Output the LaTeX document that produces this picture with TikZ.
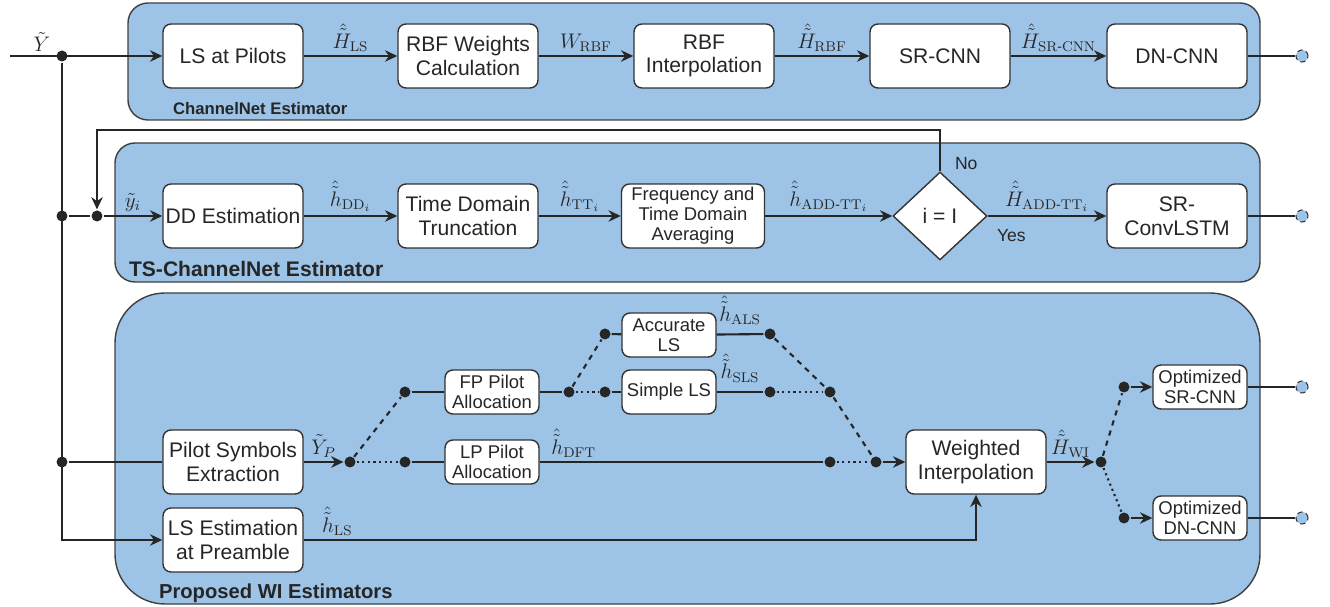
\documentclass[tikz,border=0pt]{standalone}
\usepackage{amsmath}
\usepackage[no-math]{fontspec}
\setmainfont{Liberation Sans}
\usetikzlibrary{shapes.geometric,arrows.meta}
\definecolor{panelblue}{RGB}{157,195,230}
\tikzset{
  panel/.style={draw=black!75, fill=panelblue, line width=0.8pt},
  ptitle/.style={anchor=base west, inner sep=0pt, font=\bfseries\fontsize{#1}{13}\selectfont},
  blk/.style={draw=black!80, fill=white, rounded corners=4.5pt, line width=0.8pt, align=center,
    minimum width=2.8cm, minimum height=1.28cm, inner sep=1pt, font=\fontsize{12}{13.5}\selectfont},
  sblk/.style={blk, minimum width=1.88cm, minimum height=0.88cm, font=\fontsize{10.5}{11.5}\selectfont},
  jdot/.style={circle, fill=black!85, inner sep=0pt, minimum size=0.22cm},
  outpt/.style={circle, draw=black!80, fill=panelblue, densely dashed, line width=0.6pt, inner sep=0pt, minimum size=0.24cm},
  lbl/.style={font=\fontsize{12}{14}\selectfont, inner sep=2pt},
  yn/.style={font=\fontsize{10}{12}\selectfont, inner sep=0pt},
  arr/.style={-{Stealth[length=7pt,width=6.5pt]}}
}
\newcommand{\hy}{\text{-}}
\begin{document}
\begin{tikzpicture}[x=0.02cm,y=-0.02cm,line width=1.2pt,color=black!85]
\useasboundingbox (0,0) rectangle (1330,607);
\draw[panel,rounded corners=0.4cm] (128,3) rectangle (1260,120);
\draw[panel,rounded corners=0.4cm] (115,143) rectangle (1260,282);
\draw[panel,rounded corners=1cm] (115,293) rectangle (1260,604);
\node[ptitle=9.5] at (172,115) {ChannelNet Estimator};
\node[ptitle=12] at (128,277) {TS-ChannelNet Estimator};
\node[ptitle=11.5] at (158,599) {Proposed WI Estimators};

\node[blk] (lsp) at (233,56) {LS at Pilots};
\node[blk] (rbfw) at (468,56) {RBF Weights\\Calculation};
\node[blk] (rbfi) at (704,56) {RBF\\Interpolation};
\node[blk] (srcnn) at (940,56) {SR-CNN};
\node[blk] (dncnn) at (1177,56) {DN-CNN};
\node[outpt] (o1) at (1302,56) {};

\node[blk] (dd) at (233,216) {DD Estimation};
\node[blk] (tdt) at (468,216) {Time Domain\\Truncation};
\node[blk,minimum width=2.86cm,font=\fontsize{10.5}{11.5}\selectfont] (fta) at (693,216) {Frequency and\\Time Domain\\Averaging};
\node[draw=black!80, fill=white, diamond, line width=0.8pt, minimum width=1.88cm, minimum height=1.76cm,
  inner sep=0pt, font=\fontsize{12}{14}\selectfont] (dec) at (940,216) {i = I};
\node[blk] (srconv) at (1177,216) {SR-\\ConvLSTM};
\node[outpt] (o2) at (1302,216) {};

\node[blk] (pse) at (233,462) {Pilot Symbols\\Extraction};
\node[blk] (lse) at (233,540) {LS Estimation\\at Preamble};
\node[sblk] (fp) at (492,392) {FP Pilot\\Allocation};
\node[sblk] (lp) at (492,462) {LP Pilot\\Allocation};
\node[sblk] (als) at (669,335) {Accurate\\LS};
\node[sblk] (sls) at (669,392) {Simple LS};
\node[blk] (wi) at (976,462) {Weighted\\Interpolation};
\node[sblk] (osr) at (1200,387) {Optimized\\SR-CNN};
\node[sblk] (odn) at (1200,518) {Optimized\\DN-CNN};
\node[outpt] (o3) at (1302,387) {};
\node[outpt] (o4) at (1302,518) {};

\node[jdot] (j0) at (62,56) {};
\node[jdot] (j1) at (62,216) {};
\node[jdot] (j2) at (97,216) {};
\node[jdot] (j3) at (62,462) {};
\node[jdot] (d1) at (350,462) {};
\node[jdot] (d2) at (405,462) {};
\node[jdot] (d3) at (405,392) {};
\node[jdot] (d4) at (569,392) {};
\node[jdot] (d5) at (605,334) {};
\node[jdot] (d6) at (605,392) {};
\node[jdot] (d7) at (770,334) {};
\node[jdot] (d8) at (770,392) {};
\node[jdot] (d9) at (830,392) {};
\node[jdot] (d10) at (830,462) {};
\node[jdot] (d11) at (876,462) {};
\node[jdot] (d12) at (1101,462) {};
\node[jdot] (d13) at (1124,387) {};
\node[jdot] (d14) at (1124,518) {};
\coordinate (yin) at (10,56);
\coordinate (fbk) at (97,130);

\draw[arr] (yin) -- (lsp) node[lbl, pos=0.21, above] {$\tilde{Y}$};
\draw[arr] (j0) |- (lse);
\draw[arr] (lsp) -- (rbfw) node[lbl, midway, above] {$\hat{\tilde{H}}_{\mathrm{LS}}$};
\draw[arr] (rbfw) -- (rbfi) node[lbl, midway, above] {$W_{\mathrm{RBF}}$};
\draw[arr] (rbfi) -- (srcnn) node[lbl, midway, above] {$\hat{\tilde{H}}_{\mathrm{RBF}}$};
\draw[arr] (srcnn) -- (dncnn) node[lbl, midway, above] {$\hat{\tilde{H}}_{\mathrm{SR}\hy\mathrm{CNN}}$};
\draw (dncnn) -- (o1);

\draw (j1) -- (j2);
\draw[arr] (j2) -- (dd) node[lbl, midway, above] {$\tilde{y}_i$};
\draw[arr] (dd) -- (tdt) node[lbl, midway, above] {$\hat{\tilde{h}}_{\mathrm{DD}_i}$};
\draw[arr] (tdt) -- (fta) node[lbl, midway, above] {$\hat{\tilde{h}}_{\mathrm{TT}_i}$};
\draw[arr] (fta) -- (dec) node[lbl, midway, above] {$\hat{\tilde{h}}_{\mathrm{ADD}\hy\mathrm{TT}_i}$};
\draw[arr] (dec) -- (srconv) node[lbl, midway, above] {$\hat{\tilde{H}}_{\mathrm{ADD}\hy\mathrm{TT}_i}$}
  node[yn, pos=0.2, below=7pt] {Yes};
\draw[arr] (dec.north) |- (fbk) -- (j2);
\node[yn, anchor=west] at (954,164) {No};
\draw (srconv) -- (o2);

\draw (j3) -- (pse);
\draw[arr] (pse) -- (d1) node[lbl, midway, above] {$\tilde{Y}_P$};
\draw[dotted] (d1) -- (d2);
\draw (d2) -- (lp);
\draw[dashed] (d1) -- (d3);
\draw (d3) -- (fp);
\draw (fp) -- (d4);
\draw[dotted] (d4) -- (d6);
\draw (d6) -- (sls);
\draw[dashed] (d4) -- (d5);
\draw (d5) -- (als);
\draw (als) -- (d7) node[lbl, midway, above=3pt] {$\hat{\tilde{h}}_{\mathrm{ALS}}$};
\draw (sls) -- (d8) node[lbl, midway, above=3pt] {$\hat{\tilde{h}}_{\mathrm{SLS}}$};
\draw[dotted] (d8) -- (d9);
\draw[dashed] (d7) -- (d9) -- (d11);
\draw (lp) -- (d10) node[lbl, pos=0.12, above] {$\hat{\tilde{h}}_{\mathrm{DFT}}$};
\draw[dotted] (d10) -- (d11);
\draw[arr] (d11) -- (wi);
\draw[arr] (lse) -| (wi) node[lbl, pos=0.025, above] {$\hat{\tilde{h}}_{\mathrm{LS}}$};
\draw[arr] (wi) -- (d12) node[lbl, midway, above] {$\hat{\tilde{H}}_{\mathrm{WI}}$};
\draw[dashed] (d12) -- (d13);
\draw[dotted] (d12) -- (d14);
\draw[arr] (d13) -- (osr);
\draw[arr] (d14) -- (odn);
\draw (osr) -- (o3);
\draw (odn) -- (o4);
\end{tikzpicture}
\end{document}
